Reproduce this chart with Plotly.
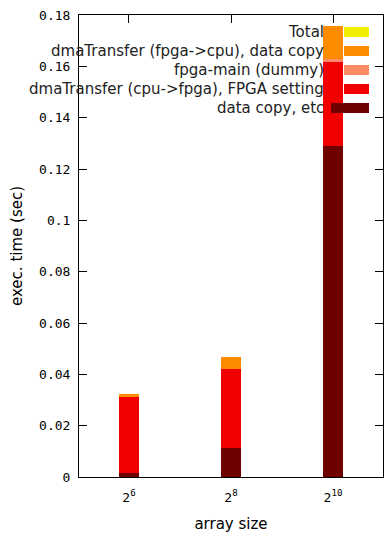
import plotly.graph_objects as go

# ---- data ----
categories = [6, 8, 10]                      # array size exponents (2^n)
cat_labels = ["2<sup>6</sup>", "2<sup>8</sup>", "2<sup>10</sup>"]
data_copy = [0.0016, 0.0113, 0.1290]
dma_cpu_fpga = [0.0296, 0.0308, 0.0327]
fpga_main = [0.0000, 0.0000, 0.0010]
dma_fpga_cpu = [0.0011, 0.0047, 0.0130]
series_names = ["data copy, etc", "dmaTransfer (cpu->fpga), FPGA setting",
                "fpga-main (dummy)", "dmaTransfer (fpga->cpu), data copy", "Total"]
series_colors = ["#6e0000", "#f20000", "#ff8a66", "#ff8c00", "#f0f000"]
y_tickvals = [0, 0.02, 0.04, 0.06, 0.08, 0.1, 0.12, 0.14, 0.16, 0.18]
y_ticktext = ["0", "0.02", "0.04", "0.06", "0.08", "0.1", "0.12", "0.14", "0.16", "0.18"]

xpos = list(range(len(categories)))
fig = go.Figure()
for vals, name, col in zip([data_copy, dma_cpu_fpga, fpga_main, dma_fpga_cpu],
                           series_names[:4], series_colors[:4]):
    fig.add_trace(go.Bar(x=xpos, y=vals, name=name, marker_color=col,
                         marker_line_width=0, width=0.205, showlegend=False))

# legend drawn gnuplot-style: right-aligned text, swatch on the right
PW, PH = 304, 462
legend_order = [4, 3, 2, 1, 0]
row_h = 19 / PH
y0 = (477 - 32) / PH
for i, k in enumerate(legend_order):
    yc = y0 - i * row_h
    fig.add_annotation(xref="paper", yref="paper", x=(326 - 79) / PW, y=yc, text=series_names[k],
                       showarrow=False, xanchor="right", yanchor="middle",
                       font=dict(family="DejaVu Sans", size=15, color="#222"))
    x0 = (331 - 79) / PW if k == 0 else (344 - 79) / PW
    fig.add_shape(type="rect", xref="paper", yref="paper", x0=x0, x1=(369 - 79) / PW,
                  y0=yc - 5 / PH, y1=yc + 5 / PH, fillcolor=series_colors[k],
                  line_width=0, layer="above")

axis_common = dict(showline=True, linecolor="black", linewidth=1, mirror="ticks",
                   ticks="inside", ticklen=8, tickcolor="black", showgrid=False,
                   zeroline=False)
fig.update_layout(
    width=384, height=533, barmode="stack", bargap=0,
    plot_bgcolor="white", paper_bgcolor="white",
    margin=dict(l=79, r=1, t=15, b=56, autoexpand=False),
    xaxis=dict(range=[-0.49, 2.49], tickvals=xpos, ticktext=cat_labels,
               tickfont=dict(family="DejaVu Sans Mono", size=13, color="black"),
               ticklabelstandoff=8,
               title=dict(text="array size", font=dict(family="DejaVu Sans", size=15, color="black"), standoff=14),
               layer="below traces", **axis_common),
    yaxis=dict(range=[0, 0.18], tickvals=y_tickvals, ticktext=y_ticktext,
               tickfont=dict(family="DejaVu Sans Mono", size=13, color="black"),
               ticklabelstandoff=5,
               title=dict(text="exec. time (sec)", font=dict(family="DejaVu Sans", size=15, color="black"), standoff=12),
               **axis_common),
)
fig.write_html("out.html", config={"displayModeBar": False},
               post_script="document.body.style.margin='0';document.body.style.overflow='hidden';")
